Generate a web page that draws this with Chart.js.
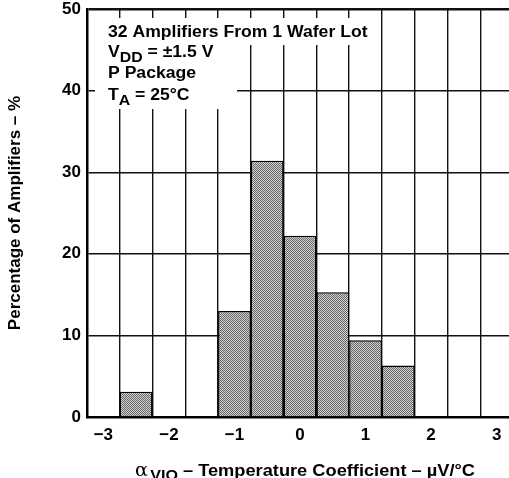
<!DOCTYPE html>
<html>
<head>
<meta charset="UTF-8">
<script src="https://cdn.jsdelivr.net/npm/chart.js"></script>
<style>
  html, body { margin: 0; padding: 0; background: #fff; overflow: hidden; }
  canvas { display: block; }
</style>
</head>
<body>
<canvas id="histo" width="520" height="478"></canvas>
<script>
// histogram bins (centre of each 0.5 µV/°C bin) and share of amplifiers in %
const binCenters = [-3, -2.5, -2, -1.5, -1, -0.5, 0, 0.5, 1, 1.5, 2, 2.5, 3];
const percentages = [0, 3.1, 0, 0, 13, 31.4, 22.2, 15.3, 9.4, 6.3, 0, 0, 0];
const yTicks = [0, 10, 20, 30, 40, 50];
const xTickLabels = [-3, -2, -1, 0, 1, 2, 3];
const noteLines = [
  [{ t: '32 Amplifiers From 1 Wafer Lot' }],
  [{ t: 'V' }, { t: 'DD', sub: true }, { t: ' = \u00b11.5 V' }],
  [{ t: 'P Package' }],
  [{ t: 'T' }, { t: 'A', sub: true }, { t: ' = 25\u00b0C' }]
];

const FONT = '"Liberation Sans", Arial, sans-serif';

// dithered grey fill like the scanned datasheet
function makePattern() {
  const c = document.createElement('canvas');
  c.width = 2; c.height = 2;
  const g = c.getContext('2d');
  g.fillStyle = '#d2d2d2'; g.fillRect(0, 0, 2, 2);
  g.fillStyle = '#666'; g.fillRect(0, 0, 1, 1); g.fillRect(1, 1, 1, 1);
  return g.createPattern(c, 'repeat');
}

function drawRich(ctx, parts, x, y, size) {
  parts.forEach(p => {
    const s = p.sub ? size * 0.9 : size;
    ctx.font = 'bold ' + s + 'px ' + FONT;
    ctx.fillText(p.t, x, p.sub ? y + 5 : y);
    x += ctx.measureText(p.t).width;
  });
  return x;
}

const notesPlugin = {
  id: 'notes',
  afterDraw(chart) {
    const ctx = chart.ctx;
    ctx.save();
    // white boxes hiding the grid behind the notes
    ctx.fillStyle = '#fff';
    ctx.fillRect(95, 18, 281, 27);
    ctx.fillRect(95, 45, 142, 64);
    ctx.fillStyle = '#000';
    ctx.textBaseline = 'alphabetic';
    const baselines = [37, 57, 78, 100];
    ctx.save();
    ctx.translate(108, 0);
    ctx.scale(1.1, 1);
    noteLines.forEach((ln, i) => drawRich(ctx, ln, 0, baselines[i], 16));
    ctx.restore();

    // x axis title with subscript
    const main = ' \u2013 Temperature Coefficient \u2013 \u00b5V/\u00b0C';
    ctx.font = '18px "DejaVu Serif", serif';
    const wA = ctx.measureText('\u03b1').width;
    ctx.font = 'bold 15px ' + FONT;
    const wS = ctx.measureText('VIO').width;
    ctx.font = 'bold 17px ' + FONT;
    const wM = ctx.measureText(main).width;
    const total = wA + 2 + wS + wM;
    const k = 340 / total;
    const base = 476;
    ctx.translate(305 - 170, 0);
    ctx.scale(k, 1);
    let x = 0;
    ctx.font = '18px "DejaVu Serif", serif';
    ctx.fillText('\u03b1', x, base);
    x += wA + 2;
    ctx.font = 'bold 15px ' + FONT;
    ctx.fillText('VIO', x, base + 4);
    x += wS;
    ctx.font = 'bold 17px ' + FONT;
    ctx.fillText(main, x, base);
    ctx.restore();
  }
};

const isEdge = v => Math.abs((v + 3.25) / 0.5 - Math.round((v + 3.25) / 0.5)) < 1e-6;

new Chart(document.getElementById('histo'), {
  type: 'bar',
  data: {
    datasets: [{
      data: binCenters.map((c, i) => ({ x: c, y: percentages[i] })),
      backgroundColor: makePattern(),
      borderColor: '#000',
      borderWidth: ctx => (ctx.raw && ctx.raw.y > 0 ? 1.5 : 0),
      borderSkipped: 'start',
      // tick spacing (0.25) is half a bin, so double the ruler width
      barPercentage: 2,
      categoryPercentage: 1,
      grouped: false
    }]
  },
  options: {
    responsive: false,
    animation: false,
    devicePixelRatio: 1,
    layout: { padding: { top: 9, right: 7, left: 0, bottom: 0 } },
    plugins: { legend: { display: false }, tooltip: { enabled: false } },
    scales: {
      x: {
        type: 'linear',
        min: -3.25,
        max: 3.25,
        offset: false,
        afterFit: s => { s.height = 61; s.paddingLeft = 0; s.paddingRight = 0; },
        ticks: {
          stepSize: 0.25,
          autoSkip: false,
          maxRotation: 0,
          padding: 8,
          color: '#000',
          font: { family: FONT, size: 17, weight: 'bold' },
          callback: v => {
            const n = Math.round(v);
            if (Math.abs(v - n) > 1e-6 || !xTickLabels.includes(n)) return '';
            return n < 0 ? '\u2212' + Math.abs(n) : String(n);
          }
        },
        grid: {
          offset: false,
          drawTicks: false,
          color: ctx => (ctx.tick && isEdge(ctx.tick.value) ? '#111' : 'rgba(0,0,0,0)'),
          lineWidth: 1.4
        },
        border: { display: true, color: '#000', width: 2.5 }
      },
      y: {
        min: 0,
        max: 50,
        afterFit: s => { s.width = 87; s.paddingTop = 0; s.paddingBottom = 0; },
        ticks: {
          stepSize: 10,
          padding: 6,
          color: '#000',
          font: { family: FONT, size: 17, weight: 'bold' },
          callback: v => (yTicks.includes(v) ? String(v) : '')
        },
        grid: {
          drawTicks: false,
          color: '#111',
          lineWidth: ctx => (ctx.tick && ctx.tick.value === 50 ? 2.5 : 1.4)
        },
        border: { display: true, color: '#000', width: 2.5 },
        title: {
          display: true,
          text: 'Percentage of Amplifiers \u2013 %',
          color: '#000',
          font: { family: FONT, size: 17, weight: 'bold' },
          padding: { top: 5, bottom: 0 }
        }
      }
    }
  },
  plugins: [notesPlugin]
});
</script>
</body>
</html>
